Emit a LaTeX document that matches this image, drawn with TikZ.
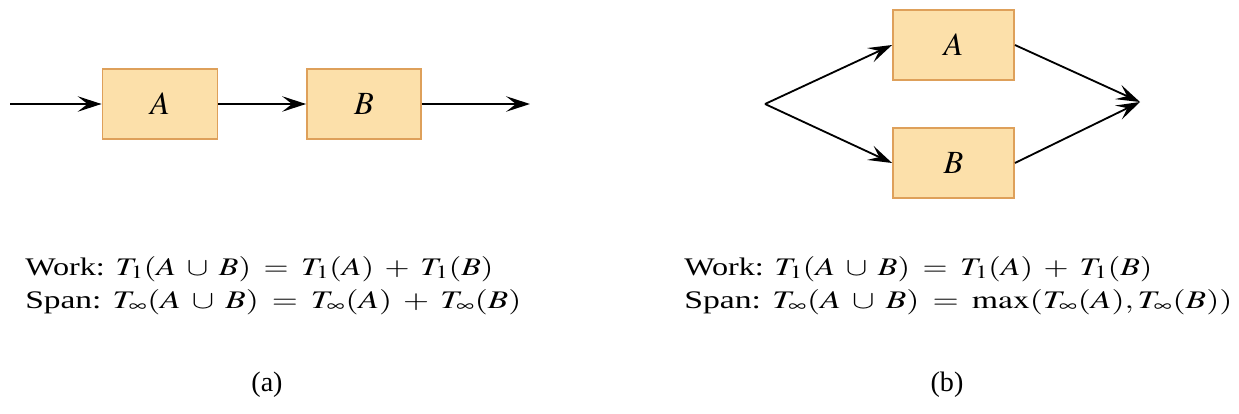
\documentclass[tikz,border=0pt]{standalone}
\usepackage{mathptmx}
\usepackage{fontspec}
\setmainfont{Liberation Serif}
\usetikzlibrary{arrows.meta}
\definecolor{boxfill}{RGB}{252,224,170}
\definecolor{boxdraw}{RGB}{222,160,90}
\newcommand{\fitw}[2]{\resizebox{#1}{\height}{#2}}
\newcommand{\wmath}[1]{\medmuskip=6mu\thickmuskip=7mu $#1$}
\tikzset{
  blk/.style={draw=boxdraw, fill=boxfill, line width=1.3pt, minimum height=1.75cm, inner sep=0pt, font=\fontsize{23}{26}\selectfont},
  conn/.style={line width=1.3pt, -{Stealth[length=17pt, width=11pt, inset=7pt]}},
  txt/.style={anchor=base west, inner sep=0pt, font=\fontsize{18}{21}\selectfont},
  captxt/.style={anchor=base, inner sep=0pt, font=\fontsize{20}{22}\selectfont}
}
\begin{document}
\begin{tikzpicture}[x=0.025cm, y=-0.025cm]
\useasboundingbox (0,0) rectangle (1239,414);
% (a)
\coordinate (in) at (10,104);
\node[blk, minimum width=2.875cm] (A1) at (160,104) {$A$};
\node[blk, minimum width=2.85cm] (B1) at (364,104) {$B$};
\coordinate (out) at (530,104);
\draw[conn] (in) -- (A1.west);
\draw[conn] (A1.east) -- (B1.west);
\draw[conn] (B1.east) -- (out);
\node[txt] (wa) at (25,275) {\fitw{11.7cm}{Work: \wmath{T_1(A\cup B)=T_1(A)+T_1(B)}}};
\node[txt] (sa) at (25,308) {\fitw{12.4cm}{Span: \wmath{T_\infty(A\cup B)=T_\infty(A)+T_\infty(B)}}};
\node[captxt] (ca) at (267,391) {(a)};
% (b)
\coordinate (fork) at (765,104);
\node[blk, minimum width=3.025cm] (A2) at (953.5,45) {$A$};
\node[blk, minimum width=3.025cm] (B2) at (953.5,163) {$B$};
\coordinate (join) at (1140,102);
\draw[conn] (fork) -- (A2.west);
\draw[conn] (fork) -- (B2.west);
\draw[conn] (A2.east) -- (join);
\draw[conn] (B2.east) -- (join);
\node[txt] (wb) at (684,275) {\fitw{11.7cm}{Work: \wmath{T_1(A\cup B)=T_1(A)+T_1(B)}}};
\node[txt] (sb) at (684,308) {\fitw{13.7cm}{Span: \wmath{T_\infty(A\cup B)=\max(T_\infty(A),T_\infty(B))}}};
\node[captxt] (cb) at (947,391) {(b)};
\end{tikzpicture}
\end{document}
